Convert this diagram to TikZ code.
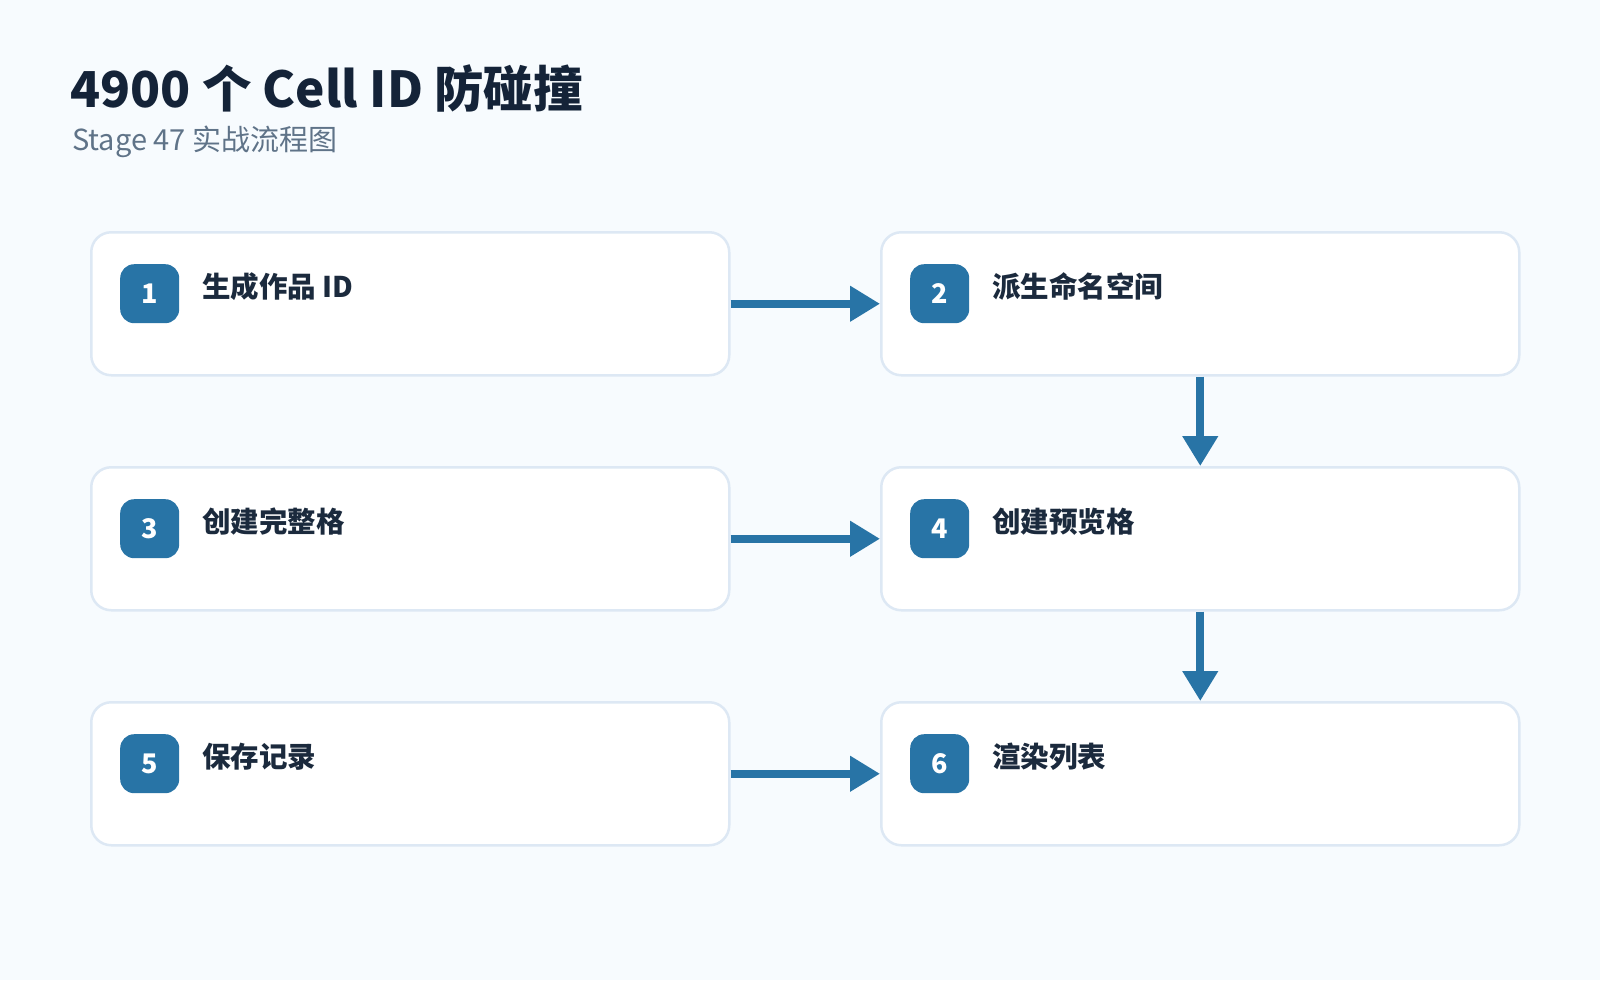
\documentclass[tikz,border=0pt]{standalone}
\usepackage{fontspec}
\setmainfont{Noto Sans CJK SC}
\usetikzlibrary{arrows.meta}
\definecolor{bg}{HTML}{F7FBFE}
\definecolor{boxline}{HTML}{DDE8F4}
\definecolor{accent}{HTML}{2874A6}
\definecolor{titlec}{HTML}{142338}
\definecolor{labelc}{HTML}{1B2A3D}
\definecolor{subc}{HTML}{5F7388}
\begin{document}
\begin{tikzpicture}[x=1pt,y=-1pt,
  stepbox/.style={draw=boxline, line width=2.5pt, fill=white, rounded corners=20pt,
    minimum width=638pt, minimum height=143pt, inner sep=0pt, anchor=north west},
  badge/.style={fill=accent, rounded corners=14pt, minimum width=59pt, minimum height=59pt,
    inner sep=0pt, text=white, font=\fontsize{27}{32}\selectfont\bfseries},
  steplabel/.style={anchor=base west, inner sep=0pt, text=labelc, font=\fontsize{28.5}{34}\selectfont\bfseries},
  flow/.style={draw=accent, line width=8pt, -{Triangle[width=34pt,length=30pt]}, shorten >=0pt}
]
\useasboundingbox (0,0) rectangle (1600,980);
\fill[bg] (0,0) rectangle (1600,980);

\node[anchor=base west, inner sep=0pt, text=titlec, font=\fontsize{49.5}{58}\selectfont\bfseries] (title) at (70,107) {4900 个 Cell ID 防碰撞};
\node[anchor=base west, inner sep=0pt, text=subc, font=\fontsize{29}{34}\selectfont] (sub) at (72,150) {Stage 47 实战流程图};

\node[stepbox] (b1) at (90,231) {};
\node[stepbox] (b2) at (880,231) {};
\node[stepbox] (b3) at (90,466) {};
\node[stepbox] (b4) at (880,466) {};
\node[stepbox] (b5) at (90,701) {};
\node[stepbox] (b6) at (880,701) {};

\foreach \i/\t in {1/生成作品 ID,2/派生命名空间,3/创建完整格,4/创建预览格,5/保存记录,6/渲染列表}{
  \node[badge, anchor=north west] (n\i) at ([xshift=30pt,yshift=-33pt]b\i.north west) {\i};
  \node[steplabel] (l\i) at ([xshift=112pt,yshift=-66pt]b\i.north west) {\t};
}

\draw[flow] (b1.east) -- (b2.west);
\draw[flow] (b3.east) -- (b4.west);
\draw[flow] (b5.east) -- (b6.west);
\draw[flow] (b2.south) -- (b4.north);
\draw[flow] (b4.south) -- (b6.north);
\end{tikzpicture}
\end{document}
